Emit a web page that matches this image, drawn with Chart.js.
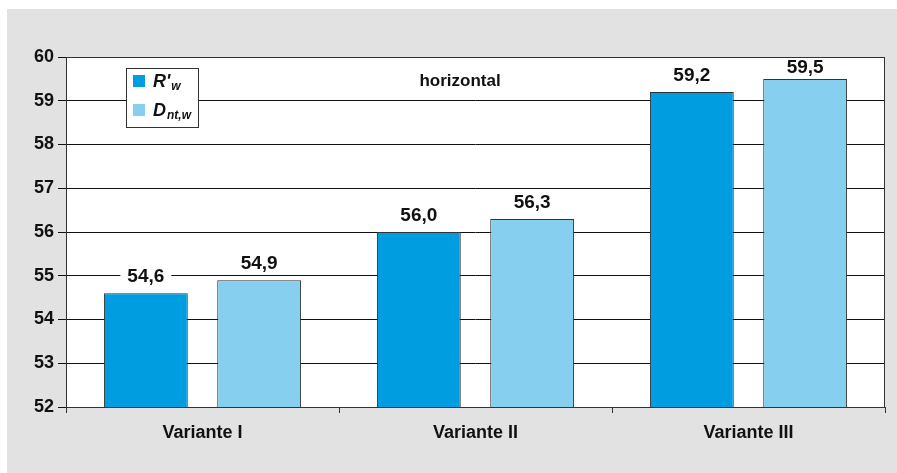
<!DOCTYPE html>
<html>
<head>
<meta charset="utf-8">
<script src="https://cdn.jsdelivr.net/npm/chart.js@4"></script>
<style>
    body { margin: 0; background: #fff; }
    #wrap { position: relative; width: 897px; height: 473px; }
    #panel { position: absolute; left: 7px; top: 9px; right: 0; bottom: 0; background: #e2e2e2; }
    #chart { position: absolute; left: 0; top: 0; }
</style>
</head>
<body>
<div id="wrap">
    <div id="panel"></div>
    <canvas id="chart" width="897" height="473"></canvas>
</div>
<script>
// Data
const categories = ['Variante I', 'Variante II', 'Variante III'];
const rwValues = [54.6, 56.0, 59.2];
const dntValues = [54.9, 56.3, 59.5];
const yMin = 52;
const yMax = 60;
const annotation = 'horizontal';

const FONT = '"Liberation Sans", Arial, sans-serif';
const DARK_BLUE = '#009ee0';
const LIGHT_BLUE = '#87cfef';

// White plot background
const bgPlugin = {
    id: 'plotBg',
    beforeDraw(chart) {
        const { ctx, chartArea: a } = chart;
        ctx.save();
        ctx.fillStyle = '#fff';
        ctx.fillRect(a.left, a.top, a.right - a.left, a.bottom - a.top);
        ctx.restore();
    }
};

// Plot frame around chart area
const framePlugin = {
    id: 'frame',
    afterDraw(chart) {
        const { ctx, chartArea: a } = chart;
        ctx.save();
        ctx.strokeStyle = '#333';
        ctx.lineWidth = 1;
        ctx.strokeRect(a.left + 0.5, a.top + 0.5, a.right - a.left - 1, a.bottom - a.top);
        ctx.restore();
    }
};

// Value labels with white background (comma decimal)
const labelPlugin = {
    id: 'valueLabels',
    afterDatasetsDraw(chart) {
        const { ctx, chartArea: a } = chart;
        ctx.save();
        ctx.font = 'bold 19px ' + FONT;
        ctx.textAlign = 'center';
        ctx.textBaseline = 'alphabetic';
        chart.data.datasets.forEach((ds, i) => {
            chart.getDatasetMeta(i).data.forEach((bar, j) => {
                const txt = ds.data[j].toFixed(1).replace('.', ',');
                const w = ctx.measureText(txt).width;
                const base = Math.max(bar.y - 11, a.top + 16);
                ctx.fillStyle = '#fff';
                ctx.fillRect(bar.x - w / 2 - 7, base - 15, w + 14, 19);
                ctx.fillStyle = '#111';
                ctx.fillText(txt, bar.x, base);
            });
        });
        ctx.restore();
    }
};

// Legend box with subscripts and the annotation text
const legendPlugin = {
    id: 'subLegend',
    afterDraw(chart) {
        const { ctx, chartArea: a } = chart;
        const x0 = a.left + 60, y0 = a.top + 11;
        ctx.save();
        ctx.fillStyle = '#fff';
        ctx.fillRect(x0, y0, 72, 59);
        ctx.strokeStyle = '#333';
        ctx.lineWidth = 1;
        ctx.strokeRect(x0 + 0.5, y0 + 0.5, 72, 59);

        const items = [
            { main: "R'", sub: 'w', color: DARK_BLUE, y: y0 + 7 },
            { main: 'D', sub: 'nt,w', color: LIGHT_BLUE, y: y0 + 36 }
        ];
        items.forEach(it => {
            ctx.fillStyle = it.color;
            ctx.fillRect(x0 + 7, it.y, 12, 12);
            ctx.fillStyle = '#111';
            ctx.textAlign = 'left';
            ctx.textBaseline = 'alphabetic';
            ctx.font = 'italic bold 18px ' + FONT;
            ctx.fillText(it.main, x0 + 27, it.y + 12);
            const mw = ctx.measureText(it.main).width;
            ctx.font = 'italic bold 12px ' + FONT;
            ctx.fillText(it.sub, x0 + 27 + mw + 1, it.y + 15);
        });

        ctx.font = 'bold 17px ' + FONT;
        ctx.textAlign = 'center';
        ctx.fillStyle = '#111';
        ctx.fillText(annotation, 460, 86);
        ctx.restore();
    }
};

new Chart(document.getElementById('chart'), {
    type: 'bar',
    data: {
        labels: categories,
        datasets: [
            {
                label: "R'w",
                data: rwValues,
                backgroundColor: DARK_BLUE,
                borderColor: '#333',
                borderWidth: 1,
                categoryPercentage: 0.83,
                barPercentage: 0.74
            },
            {
                label: 'Dnt,w',
                data: dntValues,
                backgroundColor: LIGHT_BLUE,
                borderColor: '#333',
                borderWidth: 1,
                categoryPercentage: 0.83,
                barPercentage: 0.74
            }
        ]
    },
    options: {
        responsive: false,
        animation: false,
        layout: {
            padding: { left: 0, top: 57, right: 12, bottom: 0 }
        },
        plugins: {
            legend: { display: false },
            tooltip: { enabled: false }
        },
        scales: {
            x: {
                grid: {
                    offset: true,
                    drawOnChartArea: false,
                    tickLength: 6,
                    color: '#333'
                },
                border: { display: false },
                ticks: {
                    color: '#111',
                    padding: 9,
                    font: { family: FONT, size: 18, weight: 'bold' }
                },
                afterFit(scale) { scale.height = 66; }
            },
            y: {
                min: yMin,
                max: yMax,
                grid: {
                    color: '#111',
                    tickLength: 8
                },
                border: { display: false },
                ticks: {
                    stepSize: 1,
                    color: '#111',
                    padding: 4,
                    font: { family: FONT, size: 18, weight: 'bold' }
                },
                afterFit(scale) { scale.width = 66; }
            }
        }
    },
    plugins: [bgPlugin, labelPlugin, legendPlugin, framePlugin]
});
</script>
</body>
</html>
